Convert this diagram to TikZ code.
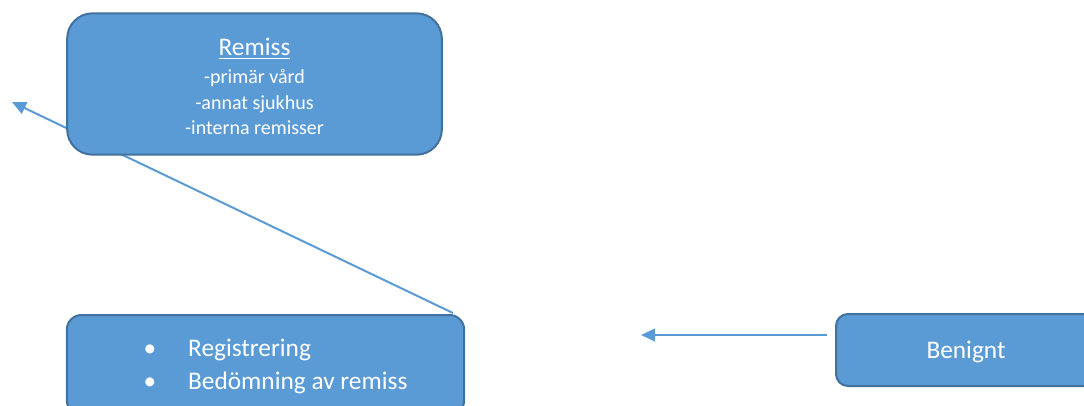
\documentclass[tikz,border=0pt]{standalone}
\usepackage{fontspec}
\setmainfont{Carlito}
\usepackage{tikz}
\usetikzlibrary{arrows.meta,backgrounds}
\definecolor{boxblue}{HTML}{5B9BD5}
\definecolor{boxedge}{HTML}{41719C}

\begin{document}
\begin{tikzpicture}[x=0.75pt,y=-0.75pt,>={Triangle[length=10.5pt,width=9.5pt]},
  stepbox/.style={draw=boxedge,fill=boxblue,line width=1.5pt,text=white,inner sep=0pt},
  flow/.style={->,draw=boxblue,line width=1.5pt}]
\useasboundingbox (0,0) rectangle (1084,405);
\clip (0,0) rectangle (1084,405);
% boxes
\node[stepbox,rounded corners=19pt,minimum width=281pt,minimum height=106pt,align=center,
  font=\fontsize{15}{19}\selectfont] (remiss) at (254.5,84)
  {\rule{0pt}{17pt}{\fontsize{19}{21}\selectfont\underline{Remiss}}\\[2pt]-primär vård\\-annat sjukhus\\-interna remisser};
\node[stepbox,rounded corners=11pt,minimum width=298pt,minimum height=75pt,
  font=\fontsize{19}{24.75}\selectfont] (reg) at (265.5,365)
  {\hspace*{15pt}\begin{tabular}{@{}l@{\hspace{24pt}}l@{}}\rule{0pt}{20pt}\textbullet&Registrering\\ \textbullet&Bedömning av remiss\end{tabular}};
\node[stepbox,rounded corners=9pt,minimum width=195pt,minimum height=54pt,text depth=0pt,
  font=\fontsize{19}{23}\selectfont] (benign) at (966,350) {Benignt};
% connectors, behind the boxes
\coordinate (outA) at (453,313); \coordinate (inA) at (12,102);
\coordinate (outB) at (827,335); \coordinate (inB) at (641,335);
\begin{scope}[on background layer]
\draw[flow] (outA) -- (inA);
\draw[flow] (outB) -- (inB);
\end{scope}
\end{tikzpicture}
\end{document}
